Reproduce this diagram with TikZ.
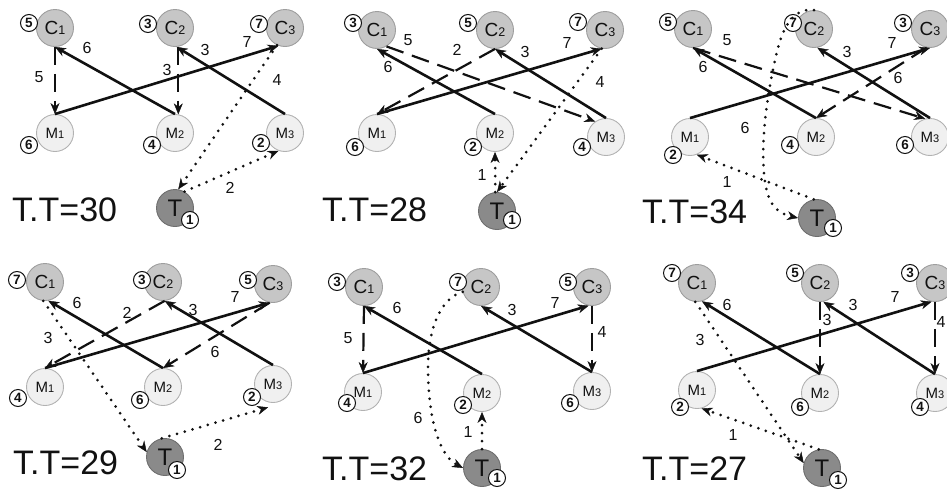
\documentclass[tikz,border=0pt]{standalone}
\usepackage{fontspec}
\setmainfont{Liberation Sans}
\usetikzlibrary{arrows.meta}

\definecolor{cfill}{HTML}{C6C6C6}
\definecolor{cedge}{HTML}{9E9E9E}
\definecolor{mfill}{HTML}{F0F0F0}
\definecolor{medge}{HTML}{B2B2B2}
\definecolor{tfill}{HTML}{8A8A8A}
\definecolor{tedge}{HTML}{6E6E6E}
\definecolor{ink}{HTML}{111111}

% node labels: letter with a smaller index on the same baseline
\newcommand\cname[1]{C{\fontsize{12.5}{12.5}\selectfont #1}}
\newcommand\mname[1]{M{\fontsize{11}{11}\selectfont #1}}
\newcommand\tname{T}

% one station circle with its numbered badge
\newcommand\station[6]{%
  \node[#1] (#2) at (#3) {#4};
  \node[badge] (#2n) at (#5) {#6};}
% an edge weight
\newcommand\elab[3]{\node[elabel] (#1) at (#2) {#3};}
% the total-time caption of a panel
\newcommand\total[3]{\node[ttlabel] (#1) at (#2) {T.T=#3};}

\tikzset{
  tip/.tip={Stealth[length=11pt,width=9pt,line width=0.4pt]},
  cnode/.style={circle, draw=cedge, fill=cfill, line width=0.9pt,
    minimum size=37pt, inner sep=0pt, text=ink,
    font=\fontsize{19}{19}\selectfont},
  mnode/.style={circle, draw=medge, fill=mfill, line width=0.9pt,
    minimum size=37pt, inner sep=0pt, text=ink,
    font=\fontsize{15}{15}\selectfont},
  tnode/.style={circle, draw=tedge, fill=tfill, line width=0.9pt,
    minimum size=37pt, inner sep=0pt, text=ink,
    font=\fontsize{24}{24}\selectfont},
  badge/.style={circle, draw=ink, fill=white, line width=1pt,
    minimum size=17pt, inner sep=0pt, text=ink,
    font=\bfseries\fontsize{13.5}{13.5}\selectfont},
  elabel/.style={inner sep=0pt, text=ink, font=\fontsize{16}{16}\selectfont},
  ttlabel/.style={anchor=west, inner sep=0pt, text=ink,
    font=\fontsize{34}{34}\selectfont},
  solidarrow/.style={draw=ink, line width=2.6pt, -tip},
  dasharrow/.style={draw=ink, line width=2.2pt, dash pattern=on 18pt off 9pt, -tip},
  dotarrow/.style={draw=ink, line width=3pt, line cap=round,
    dash pattern=on 0pt off 8pt, -tip},
}

\begin{document}
\begin{tikzpicture}[x=1pt, y=-1pt]
\useasboundingbox (0,0) rectangle (947,498);

% ---------------- panel 1 : T.T=30 ----------------
\station{cnode}{p1c1}{55,28}{\cname1}{29,23}{5}
\station{cnode}{p1c2}{175,28}{\cname2}{148,24}{3}
\station{cnode}{p1c3}{285,28}{\cname3}{259,24}{7}
\station{mnode}{p1m1}{55,133}{\mname1}{29,145}{6}
\station{mnode}{p1m2}{175,133}{\mname2}{152,145}{4}
\station{mnode}{p1m3}{285,133}{\mname3}{261,143}{2}
\station{tnode}{p1t}{175,208}{\tname}{190,220}{1}
\draw[dasharrow] (p1c1.south) -- (p1m1.north);
\draw[solidarrow] (p1m2.north) -- (p1c1.south);
\draw[solidarrow] (p1m1.north) -- (p1c3.-110);
\draw[dasharrow] (p1c2.-80) -- (p1m2.80);
\draw[solidarrow] (p1m3.north) -- (p1c2.-85);
\draw[dotarrow] (p1c3.-115) -- (p1t.80);
\draw[dotarrow] (p1t.60) -- (p1m3.-110);
\elab{p1w1}{39,77}{5}
\elab{p1w2}{87,48}{6}
\elab{p1w3}{167,70}{3}
\elab{p1w4}{205,50}{3}
\elab{p1w5}{247,42}{7}
\elab{p1w6}{277,80}{4}
\elab{p1w7}{230,188}{2}
\total{p1tt}{12,210}{30}

% ---------------- panel 2 : T.T=28 ----------------
\station{cnode}{p2c1}{377,30}{\cname1}{353,23}{3}
\station{cnode}{p2c2}{495,30}{\cname2}{468,23}{5}
\station{cnode}{p2c3}{605,30}{\cname3}{578,22}{7}
\station{mnode}{p2m1}{377,133}{\mname1}{355,147}{6}
\station{mnode}{p2m2}{495,133}{\mname2}{473,147}{2}
\station{mnode}{p2m3}{606,137}{\mname3}{582,147}{4}
\station{tnode}{p2t}{497,211}{\tname}{512,220}{1}
\draw[solidarrow] (p2m2.north) -- (p2c1.south);
\draw[dasharrow] (p2c1.-60) -- (p2m3.125);
\draw[dasharrow] (p2c2.south) -- (p2m1.north);
\draw[solidarrow] (p2m1.north) -- (p2c3.-100);
\draw[solidarrow] (p2m3.north) -- (p2c2.south);
\draw[dotarrow] (p2c3.-100) -- (p2t.north);
\draw[dotarrow] (p2t.95) -- (p2m2.south);
\elab{p2w1}{408,40}{5}
\elab{p2w2}{388,67}{6}
\elab{p2w3}{457,50}{2}
\elab{p2w4}{525,52}{3}
\elab{p2w5}{567,43}{7}
\elab{p2w6}{600,82}{4}
\elab{p2w7}{482,175}{1}
\total{p2tt}{322,210}{28}

% ---------------- panel 3 : T.T=34 ----------------
\station{cnode}{p3c1}{693,29}{\cname1}{668,22}{5}
\station{cnode}{p3c2}{814,29}{\cname2}{793,23}{7}
\station{cnode}{p3c3}{930,29}{\cname3}{903,23}{3}
\station{mnode}{p3m1}{690,137}{\mname1}{673,155}{2}
\station{mnode}{p3m2}{816,137}{\mname2}{790,145}{4}
\station{mnode}{p3m3}{930,137}{\mname3}{905,145}{6}
\station{tnode}{p3t}{817,218}{\tname}{833,228}{1}
\draw[solidarrow] (p3m2.north) -- (p3c1.south);
\draw[dasharrow] (p3c1.south) -- (p3m3.105);
\draw[solidarrow] (p3m1.north) -- (p3c3.south);
\draw[solidarrow] (p3m3.north) -- (p3c2.-80);
\draw[dasharrow] (p3c3.-100) -- (p3m2.north);
\draw[dotarrow] (p3c2.north) .. controls (798,8) and (784,20) .. (777,52)
   .. controls (765,100) and (758,165) .. (768,195)
   .. controls (772,207) and (780,214) .. (p3t.west);
\draw[dotarrow] (p3t.100) -- (p3m1.-69);
\elab{p3w1}{727,40}{5}
\elab{p3w2}{703,67}{6}
\elab{p3w3}{847,52}{3}
\elab{p3w4}{892,43}{7}
\elab{p3w5}{898,78}{6}
\elab{p3w6}{745,128}{6}
\elab{p3w7}{727,182}{1}
\total{p3tt}{642,212}{34}

% ---------------- panel 4 : T.T=29 ----------------
\station{cnode}{p4c1}{45,282}{\cname1}{17,280}{7}
\station{cnode}{p4c2}{163,282}{\cname2}{142,280}{3}
\station{cnode}{p4c3}{273,284}{\cname3}{248,280}{5}
\station{mnode}{p4m1}{45,387}{\mname1}{18,398}{4}
\station{mnode}{p4m2}{163,387}{\mname2}{140,400}{6}
\station{mnode}{p4m3}{273,384}{\mname3}{252,397}{2}
\station{tnode}{p4t}{165,457}{\tname}{177,470}{1}
\draw[dotarrow] (p4c1.-95) -- (p4t.165);
\draw[dotarrow] (p4t.100) -- ([yshift=-5pt]p4m3.-105);
\draw[solidarrow] (p4m2.north) -- (p4c1.-80);
\draw[solidarrow] (p4m1.north) -- (p4c3.-100);
\draw[dasharrow] (p4c2.-85) -- (p4m1.north);
\draw[solidarrow] (p4m3.north) -- (p4c2.-85);
\draw[dasharrow] (p4c3.-100) -- (p4m2.north);
\elab{p4w1}{77,303}{6}
\elab{p4w2}{48,338}{3}
\elab{p4w3}{127,313}{2}
\elab{p4w4}{193,310}{3}
\elab{p4w5}{235,297}{7}
\elab{p4w6}{215,352}{6}
\elab{p4w7}{218,445}{2}
\total{p4tt}{13,463}{29}

% ---------------- panel 5 : T.T=32 ----------------
\station{cnode}{p5c1}{364,287}{\cname1}{337,282}{3}
\station{cnode}{p5c2}{481,287}{\cname2}{458,282}{7}
\station{cnode}{p5c3}{592,287}{\cname3}{568,282}{5}
\station{mnode}{p5m1}{363,392}{\mname1}{347,403}{4}
\station{mnode}{p5m2}{482,393}{\mname2}{463,405}{2}
\station{mnode}{p5m3}{592,391}{\mname3}{570,403}{6}
\station{tnode}{p5t}{482,468}{\tname}{497,478}{1}
\draw[dasharrow] (p5c1.south) -- (p5m1.north);
\draw[solidarrow] (p5m2.north) -- (p5c1.south);
\draw[solidarrow] (p5m1.north) -- (p5c3.-100);
\draw[solidarrow] (p5m3.north) -- (p5c2.south);
\draw[dasharrow] (p5c3.south) -- (p5m3.north);
\draw[dotarrow] (p5t.north) -- (p5m2.south);
\draw[dotarrow] (p5c2.195) .. controls (440,298) and (428,330) .. (428,367)
   .. controls (428,420) and (440,456) .. (p5t.west);
\elab{p5w1}{397,308}{6}
\elab{p5w2}{348,338}{5}
\elab{p5w3}{512,310}{3}
\elab{p5w4}{555,303}{7}
\elab{p5w5}{602,332}{4}
\elab{p5w6}{418,418}{6}
\elab{p5w7}{468,432}{1}
\total{p5tt}{322,469}{32}

% ---------------- panel 6 : T.T=27 ----------------
\station{cnode}{p6c1}{697,283}{\cname1}{672,273}{7}
\station{cnode}{p6c2}{820,283}{\cname2}{795,273}{5}
\station{cnode}{p6c3}{935,283}{\cname3}{910,273}{3}
\station{mnode}{p6m1}{697,390}{\mname1}{680,407}{2}
\station{mnode}{p6m2}{820,393}{\mname2}{800,407}{6}
\station{mnode}{p6m3}{935,393}{\mname3}{920,407}{4}
\station{tnode}{p6t}{822,468}{\tname}{838,480}{1}
\draw[dotarrow] (p6c1.-95) -- (p6t.165);
\draw[dotarrow] (p6t.100) -- (p6m1.-76);
\draw[solidarrow] (p6m2.north) -- (p6c1.-75);
\draw[solidarrow] (p6m1.north) -- (p6c3.-100);
\draw[dasharrow] (p6c2.south) -- (p6m2.north);
\draw[solidarrow] (p6m3.north) -- (p6c2.-80);
\draw[dasharrow] (p6c3.south) -- (p6m3.north);
\elab{p6w1}{727,305}{6}
\elab{p6w2}{700,340}{3}
\elab{p6w3}{827,320}{3}
\elab{p6w4}{853,305}{3}
\elab{p6w5}{895,297}{7}
\elab{p6w6}{941,322}{4}
\elab{p6w7}{733,435}{1}
\total{p6tt}{642,469}{27}
\end{tikzpicture}
\end{document}
